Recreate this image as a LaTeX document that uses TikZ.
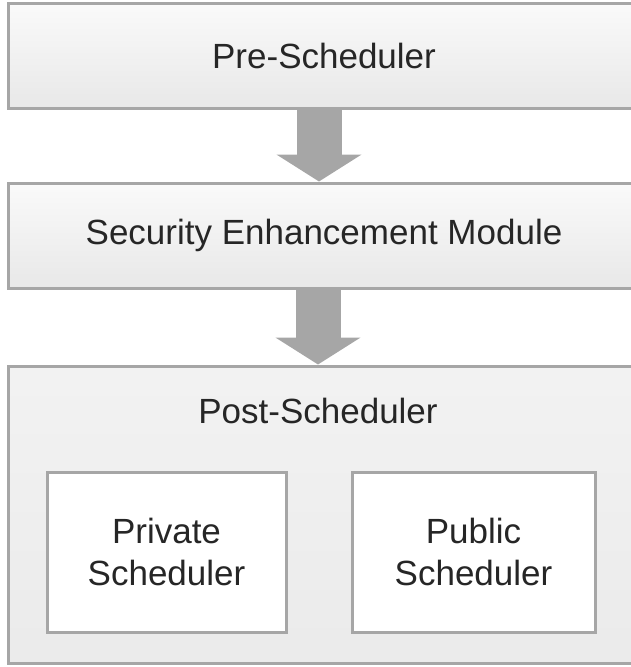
\documentclass[tikz,border=0pt]{standalone}
\usepackage{fontspec}
\setmainfont{Liberation Sans}
\usetikzlibrary{arrows.meta,positioning,shadows}

\definecolor{edgegray}{HTML}{A6A6A6}
\definecolor{txtgray}{HTML}{262626}

\tikzset{
  box/.style={draw=edgegray, line width=3pt, text=txtgray,
    font=\fontsize{35}{42}\selectfont, align=center,
    drop shadow={shadow xshift=2pt, shadow yshift=-2pt, fill=black, opacity=0.12}},
  stage/.style={box, top color=black!2, bottom color=black!9,
    minimum width=632pt, minimum height=105pt},
  sched/.style={box, fill=white, minimum width=239pt, minimum height=160pt},
  flow/.style={draw=edgegray, line width=45pt,
    -{Triangle[width=84pt, length=27pt, fill=edgegray]}}
}

\begin{document}
\begin{tikzpicture}[x=1pt, y=-1pt]
  \useasboundingbox (0,0) rectangle (631,667);

  % three stages, top to bottom
  \node (pre) [stage] at (324,55.5) {Pre-Scheduler};
  \node (sem) [stage] at (324,235.5) {Security Enhancement Module};
  \node (post) [stage, top color=black!5, bottom color=black!8,
    minimum height=297pt] at (324,514.5) {};

  % inside the post-scheduler
  \node (postlabel) [text=txtgray, font=\fontsize{35}{42}\selectfont,
    below=30pt of post.north, xshift=-6pt] {Post-Scheduler};
  \node (private) [sched] at (166.5,552) {Private\\Scheduler};
  \node (public) [sched, minimum width=243pt] at (473.5,552) {Public\\Scheduler};

  % block arrows between stages
  \draw[flow] ([xshift=-5pt]pre.south) -- ([xshift=-5pt]sem.north);
  \draw[flow] ([xshift=-6pt]sem.south) -- ([xshift=-6pt]post.north);
\end{tikzpicture}
\end{document}
